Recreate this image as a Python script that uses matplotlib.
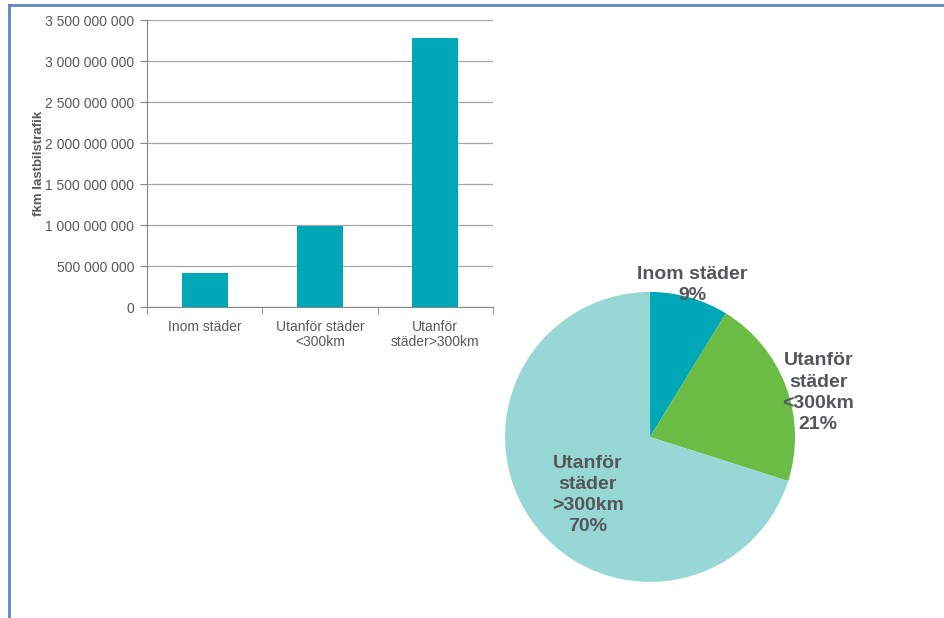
import numpy as np
import matplotlib.pyplot as plt
from matplotlib.lines import Line2D
from matplotlib.ticker import FuncFormatter, FixedLocator

plt.rcParams['font.family'] = ['Liberation Sans', 'DejaVu Sans']

# Fordonskilometer per kategori
kategorier = ['Inom städer', 'Utanför städer\n<300km', 'Utanför\nstäder>300km']
fkm = [410_000_000, 990_000_000, 3_280_000_000]

tartetiketter = ['Inom städer', 'Utanför\nstäder\n<300km', 'Utanför\nstäder\n>300km']
tartfarger = ['#00A7B7', '#6ABC45', '#97D8D7']

gra = '#595959'
fig = plt.figure(figsize=(9.44, 6.18), dpi=100)

# Ram runt hela bilden
fig.add_artist(Line2D([0.0095, 0.0095], [0, 0.992], transform=fig.transFigure, color='#5B87C5', lw=2))
fig.add_artist(Line2D([0.0095, 1.0], [0.992, 0.992], transform=fig.transFigure, color='#5B87C5', lw=2))

# Stapeldiagram
ax = fig.add_axes([0.1557, 0.5032, 0.3665, 0.4644])
x = np.arange(len(kategorier))
ax.bar(x, fkm, width=0.4, color='#00A7B7', zorder=3)
ax.set_xlim(-0.5, 2.5)
ax.set_ylim(0, 3_500_000_000)
ax.set_yticks(np.arange(0, 3_500_000_001, 500_000_000))
ax.yaxis.set_major_formatter(FuncFormatter(lambda v, p: f'{int(v):,}'.replace(',', ' ')))
ax.grid(axis='y', color='#A6A6A6', lw=0.9, zorder=0)
ax.set_xticks(x)
ax.set_xticklabels(kategorier, fontsize=10, color=gra, linespacing=1.1)
ax.xaxis.set_minor_locator(FixedLocator([-0.5, 0.5, 1.5, 2.5]))
ax.tick_params(axis='x', which='major', length=0, pad=9)
ax.tick_params(axis='x', which='minor', length=5, color='#868686', direction='out')
ax.tick_params(axis='y', length=5, color='#868686', labelsize=10, labelcolor=gra, pad=4)
for s in ['top', 'right']:
    ax.spines[s].set_visible(False)
for s in ['left', 'bottom']:
    ax.spines[s].set_color('#868686')
ax.set_ylabel('fkm lastbilstrafik', fontsize=9.5, fontweight='bold', color=gra, labelpad=0)

# Cirkeldiagram med andelar
ax2 = fig.add_axes([0.535, 0.0583, 0.3072, 0.4693])
wedges, _ = ax2.pie(fkm, colors=tartfarger, startangle=90, counterclock=False, radius=1.0)
ax2.set_xlim(-1, 1)
ax2.set_ylim(-1, 1)
andelar = np.array(fkm) / sum(fkm)
etikettpos = [(0.29, 1.05), (1.16, 0.305), (-0.43, -0.40)]
for namn, andel, (tx, ty) in zip(tartetiketter, andelar, etikettpos):
    ax2.text(tx, ty, f'{namn}\n{andel:.0%}', ha='center', va='center', fontsize=14,
             fontweight='bold', color='#55565A', linespacing=1.32, clip_on=False)

fig.savefig('out.png', dpi=100)
